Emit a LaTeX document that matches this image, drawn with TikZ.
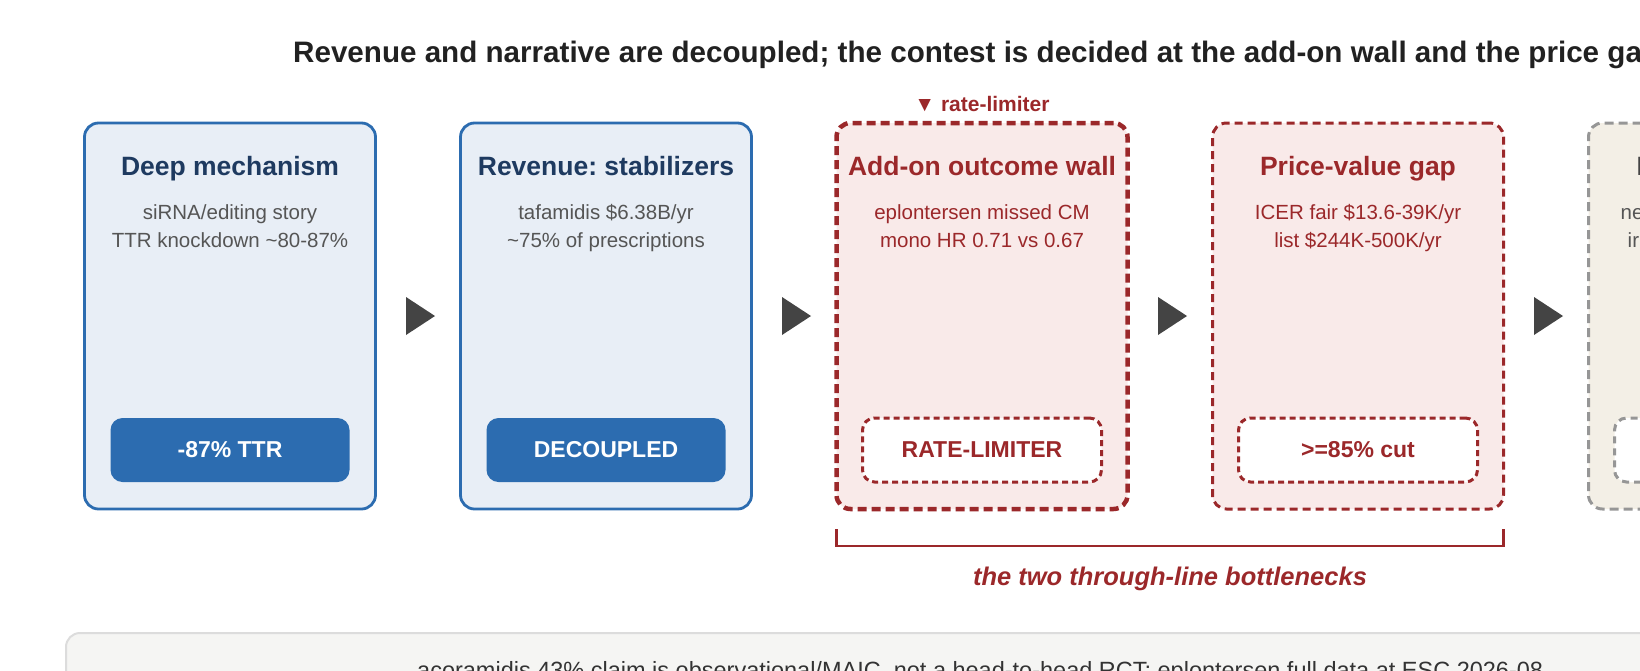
\documentclass[tikz,border=0pt]{standalone}
\usepackage{fontspec}
\setmainfont{Liberation Sans}
\usepackage{tikz}
\usetikzlibrary{positioning, calc}
\frenchspacing
\definecolor{colorMech}{RGB}{44,108,176}
\definecolor{colorMechFill}{RGB}{232,238,246}
\definecolor{colorMechText}{RGB}{30,58,96}
\definecolor{colorWall}{RGB}{155,40,42}
\definecolor{colorWallFill}{RGB}{249,234,233}
\definecolor{colorOpen}{RGB}{150,150,150}
\definecolor{colorOpenFill}{RGB}{243,239,230}
\definecolor{colorBody}{RGB}{85,85,85}
\definecolor{colorStep}{RGB}{68,68,68}
\definecolor{colorNote}{RGB}{245,245,243}
\definecolor{colorNoteEdge}{RGB}{220,220,220}
\tikzset{
  card/.style={rounded corners=14pt, minimum width=291pt, minimum height=386pt, inner sep=0pt, outer sep=0pt},
  cardMech/.style={card, draw=colorMech, fill=colorMechFill, line width=2.8pt},
  cardWall/.style={card, draw=colorWall, fill=colorWallFill, line width=3pt, dash pattern=on 8pt off 5pt},
  cardOpen/.style={card, draw=colorOpen, fill=colorOpenFill, line width=3pt, dash pattern=on 9pt off 5pt},
  badge/.style={rounded corners=12pt, minimum width=239pt, minimum height=64pt, inner sep=0pt, outer sep=0pt, font=\fontsize{23}{27}\selectfont\bfseries},
  badgeMech/.style={badge, fill=colorMech, text=white},
  badgeWall/.style={badge, draw=colorWall, fill=white, text=colorWall, line width=3pt, dash pattern=on 6pt off 4pt},
  badgeOpen/.style={badge, draw=colorOpen, fill=white, line width=3pt, dash pattern=on 7pt off 5pt},
  cardtitle/.style={anchor=base, inner sep=0pt, font=\fontsize{26.5}{31}\selectfont\bfseries},
  cardbody/.style={anchor=base, inner sep=0pt, align=center, font=\fontsize{20.5}{28}\selectfont},
}

\begin{document}
\begin{tikzpicture}[x=1pt, y=-1pt, node distance=85pt]
\useasboundingbox (0,0) rectangle (1640,670);
\clip (0,0) rectangle (1640,670);

\node[anchor=base west, inner sep=0pt, text=black!87, font=\fontsize{29.6}{34}\selectfont\bfseries] (title) at (293,62) {Revenue and narrative are decoupled; the contest is decided at the add-on wall and the price gap};

% the five cards
\node[cardMech] (b1) at (230,316) {};
\node[cardMech, right=of b1] (b2) {};
\node[cardWall, right=of b2, line width=4.5pt, dash pattern=on 9pt off 5pt] (b3) {};
\node[cardWall, right=of b3] (b4) {};
\node[cardOpen, right=of b4] (b5) {};

\node[cardtitle, text=colorMechText] (t1) at ([yshift=-52pt]b1.north) {Deep mechanism};
\node[cardtitle, text=colorMechText] (t2) at ([yshift=-52pt]b2.north) {Revenue: stabilizers};
\node[cardtitle, text=colorWall] (t3) at ([yshift=-52pt]b3.north) {Add-on outcome wall};
\node[cardtitle, text=colorWall] (t4) at ([yshift=-52pt]b4.north) {Price-value gap};
\node[cardtitle, anchor=base west, text=colorStep] (t5) at ([xshift=48pt, yshift=-52pt]b5.north west) {N};

\node[cardbody, text=colorBody] (d1) at ([yshift=-124pt]b1.north) {siRNA/editing story\\TTR knockdown \textasciitilde80-87\%};
\node[cardbody, text=colorBody] (d2) at ([yshift=-124pt]b2.north) {tafamidis \$6.38B/yr\\\textasciitilde75\% of prescriptions};
\node[cardbody, text=colorWall] (d3) at ([yshift=-124pt]b3.north) {eplontersen missed CM\\mono HR 0.71 vs 0.67};
\node[cardbody, text=colorWall] (d4) at ([yshift=-124pt]b4.north) {ICER fair \$13.6-39K/yr\\list \$244K-500K/yr};
\node[cardbody, anchor=base west, text=colorBody] (d5a) at ([xshift=32pt, yshift=-96pt]b5.north west) {nex};
\node[cardbody, anchor=base west, text=colorBody] (d5b) at ([xshift=39pt, yshift=-124pt]b5.north west) {irr};

\node[badgeMech, above=27pt of b1.south] (k1) {-87\% TTR};
\node[badgeMech, above=27pt of b2.south] (k2) {DECOUPLED};
\node[badgeWall, above=27pt of b3.south] (k3) {RATE-LIMITER};
\node[badgeWall, above=27pt of b4.south] (k4) {>=85\% cut};
\node[badgeOpen, above=27pt of b5.south] (k5) {};

% step arrows between cards
\foreach \a/\b in {b1/b2, b2/b3, b3/b4, b4/b5}
  \fill[colorStep] ($(\a.east)!0.5!(\b.west)$) +(-12,-19) -- +(17,0) -- +(-12,19) -- cycle;

\node[anchor=base, inner sep=0pt, text=colorWall, font=\fontsize{21}{25}\selectfont\bfseries] (rl) at ([yshift=12pt]b3.north) {▼ rate-limiter};

% bracket under the two bottlenecks
\coordinate (brL) at ([yshift=-20pt]b3.south west);
\coordinate (brR) at ([yshift=-20pt]b4.south east);
\draw[colorWall, line width=2.8pt] (brL) -- ([yshift=-17pt]brL) -- ([yshift=-17pt]brR) -- (brR);
\node[anchor=base, inner sep=0pt, text=colorWall, font=\fontsize{25.5}{30}\selectfont\bfseries\itshape] (bn) at ([yshift=-56pt]$(brL)!0.5!(brR)$) {the two through-line bottlenecks};

% note at the foot
\node[anchor=north west, draw=colorNoteEdge, fill=colorNote, line width=2pt, rounded corners=14pt, minimum width=1700pt, minimum height=120pt] (note) at (65,632) {};
\node[anchor=base west, inner sep=0pt, text=black!80, font=\fontsize{23.5}{28}\selectfont] (nt) at ([xshift=352pt, yshift=-46pt]note.north west) {acoramidis 43\% claim is observational/MAIC, not a head-to-head RCT; eplontersen full data at ESC 2026-08};
\end{tikzpicture}
\end{document}
